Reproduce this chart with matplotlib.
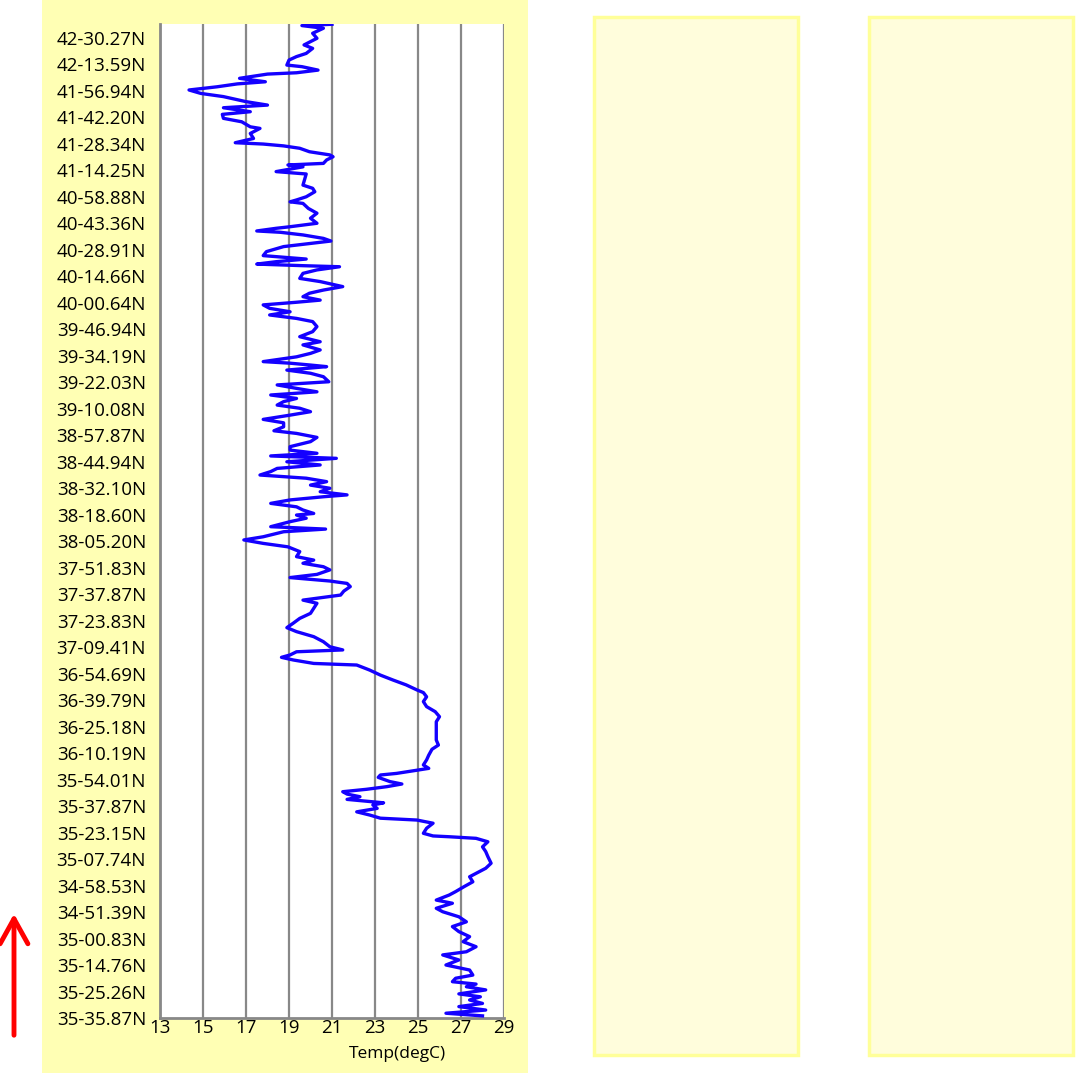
#!/usr/bin/env python3
"""Temperature along a ship track, plotted against the latitude of each sample."""

import matplotlib

matplotlib.use("Agg")
import matplotlib.pyplot as plt
from matplotlib.patches import Rectangle, FancyArrowPatch

# Latitude labels, one every 10 samples, from the first sample upwards
lat_labels = [
    "35-35.87N", "35-25.26N", "35-14.76N", "35-00.83N", "34-51.39N", "34-58.53N",
    "35-07.74N", "35-23.15N", "35-37.87N", "35-54.01N", "36-10.19N", "36-25.18N",
    "36-39.79N", "36-54.69N", "37-09.41N", "37-23.83N", "37-37.87N", "37-51.83N",
    "38-05.20N", "38-18.60N", "38-32.10N", "38-44.94N", "38-57.87N", "39-10.08N",
    "39-22.03N", "39-34.19N", "39-46.94N", "40-00.64N", "40-14.66N", "40-28.91N",
    "40-43.36N", "40-58.88N", "41-14.25N", "41-28.34N", "41-42.20N", "41-56.94N",
    "42-13.59N", "42-30.27N",
]
label_step = 10

# Sample number (last sample first)
sample = [
    375.0, 374.5, 373.5, 371.6, 369.7, 367.2, 365.9, 364.0, 362.8, 361.5, 359.6, 359.0,
    357.7, 356.7, 356.2, 354.6, 353.3, 352.5, 351.4, 350.2, 348.9, 347.7, 345.8, 344.5,
    343.5, 342.0, 341.0, 339.5, 338.2, 336.3, 335.7, 333.8, 331.9, 330.3, 329.8, 329.1,
    328.2, 326.9, 325.7, 325.0, 323.8, 322.5, 321.9, 321.2, 319.4, 318.5,
    314.3, 313.1, 311.8, 309.9, 308.7, 308.0, 307.4, 305.5, 303.7, 301.8, 299.9, 298.6,
    298.0, 297.0, 296.5, 295.5, 294.2, 293.2, 292.3, 291.1, 289.2, 287.7, 286.4, 285.4,
    284.5, 283.9, 283.5, 282.3, 281.0, 279.1, 277.9, 276.0, 274.7, 273.5, 272.2, 270.9,
    270.1, 269.1, 267.8, 266.5, 265.3, 264.0, 262.8, 260.9, 259.0, 257.1, 255.2, 254.0,
    252.1, 250.8, 249.5, 247.7, 247.1, 246.4, 245.8, 244.5, 243.3, 242.0, 240.1, 238.9,
    237.6, 236.3, 235.1, 233.8, 232.6, 231.3, 230.1, 228.8, 227.5, 225.9, 224.6, 223.1,
    221.6, 220.6, 219.1, 217.5, 215.6, 214.3, 213.1, 212.1, 211.2, 209.9, 208.7, 207.4,
    206.2, 204.9, 203.7, 202.4, 201.1, 199.9, 198.6, 197.4, 196.7, 195.5, 194.2, 192.9,
    191.7, 190.4,
    189.8, 188.6, 187.3, 185.4, 184.5, 183.5, 181.6, 180.4, 179.1, 177.8, 176.0, 174.1,
    172.8, 171.6, 170.3, 169.1, 167.4, 166.2, 164.9, 164.0, 162.8, 161.1, 159.6, 157.7,
    156.5, 154.6, 152.7, 150.8, 149.0, 147.3, 145.8, 143.9, 142.0, 140.1,
    138.9, 138.2, 137.0, 136.1, 135.1, 133.8, 133.2, 131.3, 129.4, 127.5, 125.7, 123.8,
    122.8, 121.2, 119.4, 117.5, 115.6, 113.7, 111.8, 108.7, 104.9, 103.0, 101.4, 99.2,
    97.4, 95.5, 94.2, 93.3, 92.3, 91.7, 90.8, 89.2, 88.3, 87.3, 86.3, 85.4,
    84.5, 83.5, 82.5, 81.2, 80.4, 79.1, 77.8, 76.6, 75.4, 74.7, 73.5, 71.6,
    69.7, 68.7,
    68.4, 67.8, 66.5, 64.6, 62.8, 60.9, 58.4, 56.5, 54.6, 53.3, 51.4, 49.6,
    47.7, 46.4, 44.5, 43.3, 41.4, 40.1, 38.2, 36.3, 34.5, 32.6, 30.7, 28.8,
    26.9, 25.0, 23.8, 21.9, 20.0, 18.1, 16.2, 15.0, 13.7, 12.8, 11.8, 10.6,
    9.1, 8.0, 6.8, 5.5, 4.3, 3.0, 1.8, 0.8,
]

# Temperature in degC for each sample above
temp = [
    21.0, 19.6, 20.6, 20.1, 20.3, 19.7, 20.1, 19.8, 19.35, 19.0, 18.9, 19.6,
    20.35, 19.35, 18.0, 16.7, 17.9, 16.6, 15.65, 14.35, 14.9, 15.95, 17.0, 18.0,
    15.95, 17.2, 15.9, 15.95, 16.8, 17.2, 17.65, 17.2, 17.35, 16.5, 17.8, 18.75,
    19.5, 19.95, 20.9, 21.05, 20.75, 20.6, 18.95, 19.65, 18.4, 19.8,
    19.65, 20.1, 20.2, 19.8, 19.35, 19.05, 19.65, 19.9, 20.3, 20.0, 20.3, 19.05,
    18.4, 17.5, 18.6, 19.65, 20.6, 20.95, 20.0, 18.75, 17.95, 17.8, 19.8, 18.4,
    17.5, 19.65, 21.35, 20.3, 19.65, 19.5, 20.45, 21.5, 20.6, 19.95, 19.65, 20.45,
    19.35, 17.8, 18.1, 19.05, 18.1, 19.35, 20.1, 20.3, 20.1, 19.5, 20.45, 19.65,
    20.45, 20.0, 19.35, 17.8, 19.05, 20.0, 20.75, 18.9, 20.0, 20.6, 20.85, 18.45,
    19.35, 20.3, 18.15, 19.35, 18.75, 18.45, 19.5, 20.0, 19.05, 17.8, 18.75, 18.75,
    18.3, 19.35, 20.3, 20.0, 19.05, 19.05, 20.3, 18.15, 21.2, 18.9, 20.45, 18.45,
    18.15, 17.65, 19.8, 20.75, 20.0, 20.9, 20.45, 21.7, 20.6, 19.05, 18.15, 19.35,
    19.65, 20.15,
    19.35, 19.8, 19.05, 18.15, 20.7, 18.75, 17.8, 16.9, 17.8, 18.95, 19.5, 19.35,
    20.15, 19.65, 20.6, 20.9, 20.3, 19.05, 20.9, 21.7, 21.85, 21.55, 21.4, 19.65,
    20.3, 20.15, 20.0, 19.5, 19.2, 18.9, 19.35, 20.15, 20.6, 20.9,
    21.5, 19.35, 19.05, 18.65, 19.2, 20.15, 22.15, 22.75, 23.25, 23.85, 24.45, 24.95,
    25.25, 25.4, 25.25, 25.4, 25.8, 26.0, 25.85, 25.85, 25.85, 25.95, 25.65, 25.5,
    25.4, 25.25, 25.5, 24.8, 24.0, 23.25, 23.15, 23.7, 24.25, 23.55, 22.6, 21.5,
    21.7, 22.3, 21.7, 23.4, 22.9, 23.1, 22.15, 22.75, 23.25, 24.95, 25.7, 25.4,
    25.25, 25.7,
    26.45, 27.7, 28.25, 28.0, 28.15, 28.25, 28.4, 28.15, 27.7, 27.4, 27.55, 27.15,
    26.75, 26.45, 25.85, 26.6, 25.85, 26.15, 26.9, 27.25, 26.6, 26.9, 27.4, 27.1,
    27.7, 27.25, 26.15, 26.9, 26.3, 27.4, 27.55, 26.75, 26.6, 27.7, 27.25, 28.15,
    26.9, 27.9, 27.4, 28.0, 26.9, 28.15, 26.3, 28.0,
]

x_ticks = list(range(13, 30, 2))

W, H = 1086, 1076


def main() -> None:
    plt.rcParams["font.family"] = ["Open Sans", "DejaVu Sans"]
    fig = plt.figure(figsize=(W / 100, H / 100), dpi=100)

    # Panel backgrounds (pixel boxes converted to figure fractions)
    def box(x0, y0, x1, y1, **kw):
        fig.patches.append(Rectangle((x0 / W, 1 - y1 / H), (x1 - x0) / W, (y1 - y0) / H,
                                     transform=fig.transFigure, zorder=-5, **kw))

    box(42, 0, 528, 1073, facecolor="#FFFFB4", edgecolor="none")
    box(594, 17, 798, 1055, facecolor="#FFFDDC", edgecolor="#FFFF99", linewidth=2.5)
    box(869, 17, 1073, 1055, facecolor="#FFFDDC", edgecolor="#FFFF99", linewidth=2.5)

    # Plot area
    ax = fig.add_axes([160 / W, 1 - 1018 / H, 344 / W, 994 / H])
    ax.set_facecolor("white")
    ax.plot(temp, sample, color="#1400FF", linewidth=2.4, solid_joinstyle="round", zorder=3)

    ax.set_xlim(13, 29)
    ax.set_ylim(0, label_step * 37.51)
    ax.set_xticks(x_ticks)
    ax.set_yticks([i * label_step for i in range(len(lat_labels))])
    ax.set_yticklabels(lat_labels)
    ax.tick_params(axis="both", length=0, labelsize=13.5, colors="black")
    ax.tick_params(axis="y", pad=10)
    ax.tick_params(axis="x", pad=1)

    ax.grid(axis="x", color="#888888", linewidth=1.6)
    ax.set_axisbelow(True)
    for side in ("top", "right"):
        ax.spines[side].set_visible(False)
    for side in ("left", "bottom"):
        ax.spines[side].set_color("#888888")
        ax.spines[side].set_linewidth(2)

    ax.set_xlabel("Temp(degC)", fontsize=12.5)
    ax.xaxis.set_label_coords((397 - 160) / 344, -0.028)

    # Direction arrow on the left
    arrow = FancyArrowPatch((14 / W, 1 - 1038 / H), (14 / W, 1 - 911 / H),
                            transform=fig.transFigure, color="red", linewidth=3.5,
                            mutation_scale=20,
                            arrowstyle="->,head_length=0.9,head_width=0.5")
    fig.patches.append(arrow)

    fig.savefig("out.png", dpi=100)


if __name__ == "__main__":
    main()
